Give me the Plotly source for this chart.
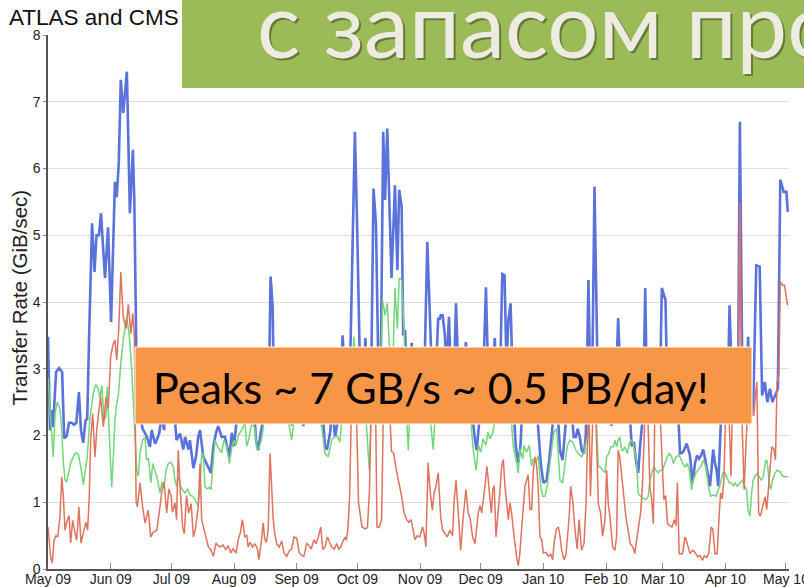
import pandas as pd
import plotly.graph_objects as go

# ---------------- data (day offset from 2009-05-01, GiB/sec) ----------------
blue_days = [0,1,1.8,2.5,4,5.5,7,8,9.2,10.4,11.7,12.8,14,15.3,16.3,17.4,18.6,19.4,20.4,21.8,23,24,25.2,26.2,28.2,29.7,31.2,33.1,34,35,36,37.2,39,40.5,42,42.7,43.8,44.6,45.6,46.8,48.8,50.4,51.3,52.9,53.4,55,56.2,57.4,58.5,59.8,61,62.3,63.6,65.3,66.9,67.8,69.4,70.2,71.9,73.2,74.3,75.2,76.8,78.5,79.8,80.6,81.8,83.1,84.2,85.9,87.5,88.7,89.7,90.9,92,93,94.3,95.5,96.8,98,99.2,100.5,101.7,102.9,104,105.2,106.2,107.3,108.5,109.3,110.1,111.1,111.8,113,114.5,116,117.3,118.7,120,120.5,121.8,123,124.3,125.3,126.3,127.5,128.8,130,131.3,132.5,133.8,135,136.2,137,138,139.5,140.7,142,143,144.5,145.7,147,148.3,149.4,150.3,151.8,153,154.3,155.3,157,158,159.7,161,162.2,163.4,164.4,165.8,166.7,167.8,168.8,169.9,171.6,172.8,173.7,174.9,175.7,176.6,177.5,178.7,179.9,181,182.3,183.5,184.8,186,187.6,189.8,191.4,193,193.6,194.2,195.2,196.3,197.2,198.3,199.3,200.6,201.8,202.9,204.7,206.7,208.7,209.9,211.2,212,212.8,213.6,215,216.6,217.8,219.3,221,222,223.3,224.7,225.8,226.8,227.7,228.8,230.1,231.4,232.6,233.7,234.4,235.8,237,238.3,239.6,240.8,242,243.7,245,246.6,247.9,249,249.8,251,252.2,253.2,254.5,255.7,256.7,258,259.2,260,261.1,262,263,264,265.1,266,267.3,268.3,269,270.3,272,273,274,275.2,276.4,277.6,278.6,279.4,280.6,282,283.4,284.5,285.4,286.6,287.6,288.7,289.8,290.8,291.9,293,294.3,295.4,296.2,297.3,298.5,299.7,300.9,302,302.6,303.6,304.5,305.4,306.4,307.5,308.6,309.6,310.6,311.6,312.6,314.1,315.9,317.5,318.8,320,321,322,323,324.1,325,325.8,326.6,327.4,328.2,329,329.8,330.7,331.5,332.8,334,334.8,336,337.1,338.5,339.5,340.3,341.2,342.2,343.5,344.7,346.3,347.2,348.7,350.3,352,353.2,354.5,355.8,357.1,358.3,359.6,361,362.2,363.9,365.2,365.9]
blue_vals = [3.48,2.08,2.38,2.13,2.95,3.01,2.95,1.96,1.99,2.19,2.19,2.16,2.19,2.65,2.08,1.89,2.23,2.25,3.58,5.18,4.45,5.0,5.0,5.33,4.36,5.12,3.7,5.8,5.57,6.08,7.33,6.83,7.45,5.33,6.28,5.5,3.0,2.5,2.3,2.1,1.99,1.83,2.08,1.88,1.9,2.03,2.3,2.08,2.6,2.4,2.7,2.4,1.93,2.03,1.79,1.98,1.79,1.93,1.51,1.68,1.98,2.08,1.68,1.58,1.48,1.44,1.84,2.04,2.14,1.98,1.98,1.79,1.68,2.04,1.84,2.14,2.5,2.3,2.7,2.4,2.6,2.3,2.5,1.93,1.78,2.04,2.2,2.5,2.3,2.8,4.38,3.93,2.5,2.3,2.6,2.4,2.7,2.3,2.4,2.15,2.5,2.7,2.3,2.6,2.14,2.5,2.8,2.4,2.6,2.3,2.7,2.4,2.2,1.83,1.79,2.04,2.4,1.98,2.16,2.6,3.5,2.8,2.5,3.0,4.5,6.55,5.0,3.0,2.5,3.46,2.6,2.5,5.7,5.18,3.0,2.5,6.55,5.53,6.6,5.53,4.36,5.75,4.48,5.68,5.43,3.5,3.58,2.8,2.5,3.39,2.6,2.4,2.8,2.5,2.7,4.9,3.0,2.6,3.76,3.73,3.8,3.8,3.5,3.0,3.78,2.9,2.6,3.98,3.0,2.5,3.4,2.5,2.3,1.93,1.78,2.04,2.3,2.6,4.22,2.8,2.5,3.46,2.7,2.5,4.42,4.4,3.0,3.73,3.98,2.5,1.83,1.59,1.85,2.3,2.6,2.4,2.7,2.4,2.6,2.3,1.59,1.29,1.33,1.63,1.98,2.3,2.6,2.3,1.78,1.63,2.0,2.4,2.6,2.3,1.98,1.98,2.1,1.98,1.78,1.73,2.0,4.33,2.6,2.4,5.73,2.6,2.2,2.4,2.2,2.5,2.3,2.15,2.2,2.5,3.76,2.6,2.4,2.3,2.6,2.4,1.84,1.9,1.63,1.44,1.9,2.3,4.21,2.6,2.4,2.7,2.5,2.8,2.5,2.6,4.21,4.1,4.03,2.5,2.6,2.3,2.4,2.2,2.4,1.73,1.75,1.88,1.7,1.29,1.58,1.7,1.65,1.7,1.79,1.65,1.53,1.4,1.24,1.5,1.79,1.6,1.48,1.24,2.2,2.5,2.6,2.3,3.95,2.5,2.3,2.6,2.4,6.7,2.6,2.3,3.48,2.4,2.3,4.55,4.53,2.6,2.8,2.5,2.7,2.5,2.6,2.7,5.83,5.65,5.65,5.35]

green_days = [0,1.3,2.6,3.5,4.6,5.9,6.8,7.6,8.4,9.2,10.4,11.4,12.5,13.8,15,16.2,17.5,18.3,19.4,20.8,22.4,23.6,24.9,25.7,26.6,27.8,28.7,29.3,30.7,31.5,32.3,33.1,34,34.8,36,37.2,38.9,40.2,41.4,42.5,43.9,44.7,45.5,46.8,48,48.8,49.7,50.8,51.8,52.6,53.8,55.4,56.4,57.4,58.4,59.5,60.7,62,62.8,63.6,64.4,65.5,66.6,67.8,69,70.2,71.6,72.7,73.5,74.3,75.2,76,76.8,77.6,78.6,79.8,80.6,81.5,82.6,83.6,84.6,85.9,87,88.3,89.7,90.8,92,93,94.1,95.8,97.4,98.3,99.4,100.7,102.4,103.2,104.4,105.7,106.8,108.7,110,111.5,113,114.5,116,117.5,119,120.5,122,123.5,125,126.5,128,129.5,131,132.5,134,135.5,137,138.6,140.5,142.9,144.4,146,147.5,149,150.3,151.3,152.5,154,155.5,157,158.9,160,161.5,163,164.5,165.5,166.7,167.8,169.1,170.5,171.6,172.8,173.7,174.9,176.1,177,178.2,179,180.5,182,183.5,185,186.5,188,189.3,190.5,191.5,193,194.5,196,197.5,199,200.5,202,203.5,205,206.5,208,209.2,210.3,211.7,212.9,214.1,215.1,216.6,217.6,218.6,220.1,221.5,223,224.5,226,227.5,229,230.1,231.8,232.6,233.4,234.8,235.4,236.7,238,239.2,240,241.3,242.5,243.7,244.7,245.8,246.9,247.9,249.1,250.2,251.6,252.4,253.2,254.5,255.7,256.8,258.1,259.6,261.1,262,263.9,265.1,266,267.2,268,269.5,271,272.2,273,274.3,275.5,276.3,277.4,278.3,279.6,280.4,281.2,282,282.8,283.7,284.5,285.3,286.5,287.5,288.3,289.5,290.3,291.2,291.9,293.1,294.4,295.7,296.9,297.7,298.6,299.7,300.7,301.8,302.7,304,305.1,306.3,307.3,308.5,309.3,310.6,311.7,312.6,313.9,315.1,316.2,317.2,318.3,319.1,320.5,321.6,322.8,324.1,325.4,326.6,327.7,329,330.4,331.5,332.3,333.7,334.8,335.7,337,338.1,338.9,339.8,340.9,342.2,343.5,344.5,345.5,346.3,347.2,348,348.8,349.7,350.8,351.8,352.9,353.7,355.1,355.8,356.7,357.4,358.4,359.6,360.7,362,363.4,365.9]
green_vals = [2.86,2.26,1.68,2.33,2.5,2.4,2.08,1.59,1.33,1.31,1.48,1.6,1.68,1.74,1.72,1.53,1.26,1.48,1.68,2.28,2.63,2.76,2.7,2.56,2.75,2.23,2.3,2.73,1.83,1.23,1.68,2.23,2.48,2.6,3.08,3.43,3.78,3.5,3.0,2.33,1.48,1.39,1.73,1.93,1.98,1.63,1.66,1.29,1.58,1.5,1.39,1.14,1.3,1.22,1.48,1.58,1.6,1.53,1.33,1.24,1.39,1.25,1.18,1.14,1.2,1.11,1.09,1.04,0.99,0.94,1.24,1.73,1.73,1.24,1.2,1.22,1.19,1.58,1.93,1.85,1.8,1.74,1.93,1.85,1.58,1.8,1.93,1.85,2.0,2.08,2.2,1.84,1.95,2.2,2.1,1.79,1.82,1.95,2.2,2.18,2.5,2.3,2.6,2.4,2.7,2.4,2.2,1.93,2.3,2.6,2.4,2.7,2.5,2.8,2.4,2.6,2.3,2.1,1.73,1.68,1.95,2.0,1.9,2.5,2.7,2.5,2.9,3.48,2.8,2.5,2.7,2.4,1.48,2.5,2.8,2.6,2.9,4.03,3.8,3.98,3.2,3.0,4.21,3.6,4.36,4.33,3.6,2.5,1.78,2.4,2.7,2.5,2.8,2.6,2.4,2.6,2.2,1.79,2.3,2.6,2.4,2.7,2.5,2.8,2.4,2.6,2.3,2.5,2.7,2.4,2.2,1.79,1.48,1.85,1.75,1.95,1.85,2.05,1.95,2.05,2.3,2.5,2.7,2.4,2.6,2.3,1.84,1.59,1.44,1.8,1.65,1.85,1.75,1.85,1.54,1.65,1.6,1.7,1.24,1.09,1.09,1.24,1.48,1.84,2.05,2.1,1.68,1.33,1.29,1.58,1.84,1.93,1.9,1.78,1.74,1.68,1.74,1.9,2.0,2.3,2.5,2.4,1.53,1.53,1.48,1.44,1.68,1.73,1.83,1.83,1.93,1.83,1.93,1.98,1.78,1.78,1.83,1.73,1.88,1.93,1.88,1.73,1.58,1.14,1.09,1.06,1.04,1.09,1.33,1.44,1.53,1.48,1.44,1.48,1.48,1.58,1.68,1.73,1.68,1.58,1.68,1.7,1.68,1.58,1.53,1.58,1.48,1.19,1.33,1.44,1.48,1.53,1.63,1.53,1.24,1.09,1.11,1.09,1.19,1.24,1.44,1.44,1.38,1.29,1.29,1.24,1.29,1.24,1.29,1.33,1.24,1.19,0.89,0.79,1.14,1.33,1.39,1.44,1.38,1.33,1.38,1.63,1.6,1.29,1.19,1.33,1.44,1.48,1.46,1.39,1.38]

red_days = [0,1.3,2.1,3,4,4.8,5.9,6.8,7.6,8.4,9.2,10.4,11.2,12.2,13.4,14.2,15.3,16.3,17.4,18.8,19.6,20.4,21.1,22.1,23.2,24.1,25.2,26,27.4,28.7,29.8,31,32.3,33.1,34,35,36,37.2,38.6,39.7,41,41.9,42.7,43.6,44.2,45.5,46.8,48,49.6,50.8,52,53.8,55,56.2,57.4,58.7,59.8,60.9,61.5,62.8,63.6,64.4,65.3,66.6,67.4,68.5,69.6,70.8,71.9,72.9,74.3,75.2,76,76.8,77.8,79.3,80.5,81.8,83.1,84,85.4,86.5,88,89.1,90.4,91.5,93,94.1,95.2,96.1,97.4,98.3,99,99.9,101.2,102.3,103.6,104.3,105.6,106.4,107.2,108,108.9,109.8,110.6,111.4,112.3,113.1,114.4,115.6,116.7,118.1,119.3,120.5,121.7,123,124.3,125.5,126.6,127.9,129.1,130.2,131.5,132.6,133.7,134.9,135.9,137,138.2,139.2,140.3,141.6,142.8,143.8,144.8,145.7,146.9,147.5,148.3,149.2,150.2,151,152.5,153.6,155.3,156.9,158,159,160,162,162.7,163.8,165,166,168.5,169.9,171,172.1,173.7,174.9,176.1,177.4,178.5,179.6,180.3,181.5,182.6,183.9,185.2,186,186.9,188,188.9,190.1,191,191.9,193,194.2,195.2,196.4,197.5,198.7,200.1,200.8,201.8,202.9,204.1,205.4,206.7,207.8,208.9,210,211.2,212.8,213.7,214.5,215.4,216.3,217.1,218.4,219.3,220,220.7,221.6,222.7,223.6,224.4,225.2,226,227,227.7,228.5,229.3,230.1,230.9,231.8,232.6,233.4,234.2,235.1,235.9,236.7,237.5,238.4,239.2,240,240.9,241.7,242.5,243.3,244.2,245,246.2,247.5,248.7,249.6,250.3,251.3,252.4,253.2,254,255.2,256.2,256.8,257.8,258.5,259.6,260.6,261.7,262.7,263.9,265.1,266.1,266.7,267.5,268.3,268.9,269.7,270.5,272.2,273.3,274.3,275.5,276.3,277.1,277.9,279.3,280.4,281.2,282,282.8,283.7,284.5,285.8,286.8,288,289.3,290.2,291,291.9,293.1,294,294.7,295.6,296.5,297.7,298.6,299.4,300.2,301.5,302.5,304.6,305.5,306.4,307.4,308.6,309.8,310.6,311.3,312.2,313.8,315.1,316.2,317.5,318.8,320,321.4,322.5,323.8,324.6,325.8,326.8,328,328.8,329.9,331,332,332.7,333.5,334.3,335.3,336.5,337.8,338.5,339.8,341,342.2,343.2,344.3,345,346,347.5,349,350.6,351.5,352.3,353.5,354.7,355.5,356.4,357.2,358,359,359.8,360.6,361.5,362.2,363.4,364.3,365.8]
red_vals = [0.63,0.18,0.09,0.43,0.5,0.48,0.78,1.38,1.08,0.58,0.7,0.8,0.39,0.73,0.53,0.43,0.93,0.39,0.53,0.7,0.58,1.08,1.93,2.33,1.68,2.08,2.38,2.58,2.13,2.58,2.4,3.18,3.38,3.43,3.13,3.6,4.45,3.78,3.6,3.96,3.53,3.83,3.5,1.0,0.93,1.29,0.93,0.69,0.88,0.48,0.55,0.58,0.84,1.14,1.3,0.84,1.2,1.09,0.85,0.99,0.74,1.78,1.23,0.63,0.53,1.1,0.84,0.98,0.48,0.6,0.93,1.58,0.74,0.63,0.5,0.33,0.29,0.19,0.39,0.35,0.33,0.36,0.29,0.35,0.24,0.3,0.24,0.44,0.55,0.74,0.48,0.5,0.33,0.4,0.33,0.38,0.3,0.14,0.44,0.69,0.45,0.4,0.58,1.73,1.24,0.74,0.5,0.38,0.33,0.42,0.24,0.19,0.27,0.3,0.48,0.46,0.24,0.2,0.19,0.38,0.35,0.3,0.44,0.38,0.48,0.63,0.29,0.33,0.48,0.4,0.33,0.3,0.38,0.3,0.33,0.4,0.48,0.43,0.58,1.1,2.6,2.8,2.4,0.99,0.63,0.6,0.62,1.18,2.6,2.5,0.63,0.62,0.74,2.6,2.7,1.76,1.74,1.51,1.29,1.09,0.84,0.74,0.7,0.74,0.63,0.44,0.5,0.48,0.63,0.55,0.33,1.59,1.2,0.88,1.15,1.24,1.44,0.79,0.58,0.53,0.48,0.58,0.5,0.99,1.33,0.85,0.28,0.79,1.19,0.84,0.74,0.48,0.38,0.84,0.95,0.84,1.04,1.29,1.54,1.09,0.84,1.19,1.25,0.48,0.84,1.2,1.54,1.64,1.24,0.9,0.74,0.99,0.84,0.6,0.38,0.17,0.05,0.24,0.58,0.9,1.24,1.33,1.41,0.89,0.89,1.46,1.68,1.55,1.19,0.48,0.44,0.24,0.25,0.19,0.22,0.14,0.38,0.58,0.63,0.5,0.29,0.14,0.22,0.43,0.79,1.24,1.0,0.6,0.3,0.74,0.28,0.38,0.98,1.73,2.6,1.09,1.6,2.5,2.8,0.98,0.84,0.49,0.74,1.48,0.98,0.79,0.33,0.28,0.48,1.78,1.68,1.39,1.09,0.79,0.6,0.38,0.33,0.23,0.4,0.58,0.84,1.23,1.83,2.6,2.5,1.23,1.03,0.68,2.5,2.7,2.5,1.04,1.1,0.68,0.65,0.63,0.74,0.65,1.29,0.23,0.23,0.48,0.38,0.23,0.28,0.25,0.18,0.2,0.13,0.2,0.17,0.23,0.63,0.6,0.23,0.23,0.84,1.14,1.05,1.33,2.5,2.6,1.39,2.4,2.5,2.3,5.48,2.3,1.19,1.8,2.4,2.5,2.3,2.8,0.84,0.79,0.95,1.08,0.89,1.23,1.63,1.83,1.8,1.63,2.8,2.9,4.3,4.25,4.25,3.95]

month_labels = ["May 09","Jun 09","Jul 09","Aug 09","Sep 09","Oct 09","Nov 09",
                "Dec 09","Jan 10","Feb 10","Mar 10","Apr 10","May 10"]
y_ticks = [0,1,2,3,4,5,6,7,8]

title_text = "ATLAS and CMS"
y_title = "Transfer Rate (GiB/sec)"
banner_text = "с запасом про"
callout_text = "Peaks ~ 7 GB/s ~ 0.5 PB/day!"

# ---------------- build ----------------
base = pd.Timestamp("2009-05-01")
def to_dates(days):
    return base + pd.to_timedelta(days, unit="D")

month_ticks = pd.date_range("2009-05-01", periods=len(month_labels), freq="MS")

fig = go.Figure()
fig.add_trace(go.Scatter(x=to_dates(blue_days), y=blue_vals, mode="lines",
                         line=dict(color="#5A72DA", width=2.6), hoverinfo="skip"))
fig.add_trace(go.Scatter(x=to_dates(green_days), y=green_vals, mode="lines",
                         line=dict(color="#72D67A", width=1.5), hoverinfo="skip"))
fig.add_trace(go.Scatter(x=to_dates(red_days), y=red_vals, mode="lines",
                         line=dict(color="#DE735E", width=1.5), hoverinfo="skip"))

sans = "Liberation Sans, Arial, sans-serif"
axis_font = dict(family=sans, size=14, color="#222222")

fig.update_layout(
    width=804, height=587,
    margin=dict(l=48, r=15, t=35, b=18),
    paper_bgcolor="white", plot_bgcolor="white",
    showlegend=False,
    font=axis_font,
    xaxis=dict(
        type="date", automargin=False,
        range=[pd.Timestamp("2009-05-01"), pd.Timestamp("2010-05-02 12:00")],
        tickvals=month_ticks, ticktext=month_labels,
        ticks="inside", ticklen=6, tickcolor="#888888",
        ticklabelstandoff=-4, ticklabeloverflow="allow",
        showline=True, linecolor="#555555", linewidth=1.5,
        showgrid=False, zeroline=False, tickfont=axis_font,
    ),
    yaxis=dict(
        range=[0, 8], tickvals=y_ticks, automargin=False,
        ticks="outside", ticklen=3, tickcolor="#888888",
        showline=True, linecolor="#555555", linewidth=1.5,
        showgrid=True, gridcolor="#DDDDDD", gridwidth=1,
        zeroline=False, tickfont=axis_font,
    ),
    title=dict(text=title_text, x=9/804, xanchor="left", xref="container",
               y=1-17/587, yanchor="middle", yref="container",
               font=dict(family=sans, size=22.5, color="#111111")),
)

# overlays (pixel geometry converted to paper coords of plot area)
L, R, T, B = 48, 789, 35, 569
W, H = R - L, B - T
def px(x): return (x - L) / W
def py(y): return (B - y) / H

# y-axis title
fig.add_annotation(xref="paper", yref="paper", x=px(18.5), y=py(298), xanchor="center", yanchor="middle",
                   text=y_title, textangle=-90, showarrow=False,
                   font=dict(family=sans, size=20.5, color="#222222"))

fig.add_shape(type="rect", xref="paper", yref="paper",
              x0=px(182), x1=px(810), y0=py(88), y1=py(-5),
              fillcolor="#9BBB59", line=dict(width=0), layer="above")
fig.add_shape(type="rect", xref="paper", yref="paper",
              x0=px(135), x1=px(752), y0=py(424), y1=py(347),
              fillcolor="#F79646", line=dict(color="white", width=1), layer="above")

banner_font = "Lato, Open Sans, sans-serif"
fig.add_annotation(xref="paper", yref="paper", x=px(257), y=py(25), xanchor="left", yanchor="middle",
                   text=banner_text, showarrow=False,
                   font=dict(family=banner_font, size=90.5, color="rgba(60,70,30,0.55)"))
fig.add_annotation(xref="paper", yref="paper", x=px(255), y=py(23), xanchor="left", yanchor="middle",
                   text=banner_text, showarrow=False,
                   font=dict(family=banner_font, size=90.5, color="#EEECE1"))
fig.add_annotation(xref="paper", yref="paper", x=px(151), y=py(387), xanchor="left", yanchor="middle",
                   text=callout_text, showarrow=False,
                   font=dict(family=banner_font, size=43, color="#000000"))

fig.write_html("out.html", config={"displayModeBar": False},
               post_script="document.body.style.margin='0px';document.body.style.overflow='hidden';")
